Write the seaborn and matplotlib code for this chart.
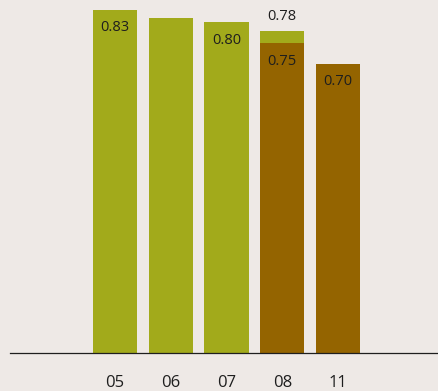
import matplotlib
matplotlib.use("Agg")
import matplotlib.pyplot as plt
import seaborn as sns
import pandas as pd
import numpy as np

# Values per year; the second series overlays the first in 08 and 11
years = ["05", "06", "07", "08", "11"]
green_values = [0.83, 0.81, 0.80, 0.78, np.nan]
brown_values = [np.nan, np.nan, np.nan, 0.75, 0.70]
green_labels = ["0.83", "", "0.80", "0.78", ""]
brown_labels = ["", "", "", "0.75", "0.70"]

GREEN = "#A2AA1B"
BROWN = "#946400"
BG = "#EEE9E6"
TEXT = "#1E1E1E"

sns.set_theme(style="white")
plt.rcParams["font.family"] = ["Open Sans", "DejaVu Sans"]

df = pd.DataFrame({
    "year": years * 2,
    "value": green_values + brown_values,
    "series": ["a"] * len(years) + ["b"] * len(years),
}).dropna()

fig = plt.figure(figsize=(4.39, 3.91), dpi=100, facecolor=BG)
ax = fig.add_axes([0.023, 0.097, 0.977, 0.903])
ax.set_facecolor(BG)

sns.barplot(data=df, x="year", y="value", hue="series", order=years,
            hue_order=["a", "b"], palette={"a": GREEN, "b": BROWN},
            dodge=False, width=0.79, saturation=1, legend=False,
            linewidth=0, edgecolor="none", ax=ax)

ax.set_ylim(0, 0.854)
ax.set_xlim(-1.88, 5.81)

# Value labels: inside the bar top, except 08's upper value which sits above
for i, (v, lab) in enumerate(zip(green_values, green_labels)):
    if not lab:
        continue
    if not np.isnan(brown_values[i]):
        ax.annotate(lab, (i, v), xytext=(0, 10), textcoords="offset points",
                    ha="center", va="center", fontsize=10.5, color=TEXT)
    else:
        ax.annotate(lab, (i, v), xytext=(0, -13), textcoords="offset points",
                    ha="center", va="center", fontsize=10.5, color=TEXT)
for i, (v, lab) in enumerate(zip(brown_values, brown_labels)):
    if lab:
        ax.annotate(lab, (i, v), xytext=(0, -13), textcoords="offset points",
                    ha="center", va="center", fontsize=10.5, color=TEXT)

for s in ["top", "right", "left"]:
    ax.spines[s].set_visible(False)
ax.spines["bottom"].set_color("#1E1E1E")
ax.spines["bottom"].set_linewidth(0.9)
ax.set_yticks([])
ax.set_xlabel("")
ax.set_ylabel("")
ax.tick_params(axis="x", length=0, pad=16, labelsize=12, colors=TEXT)

fig.savefig("out.png", dpi=100, facecolor=BG)
